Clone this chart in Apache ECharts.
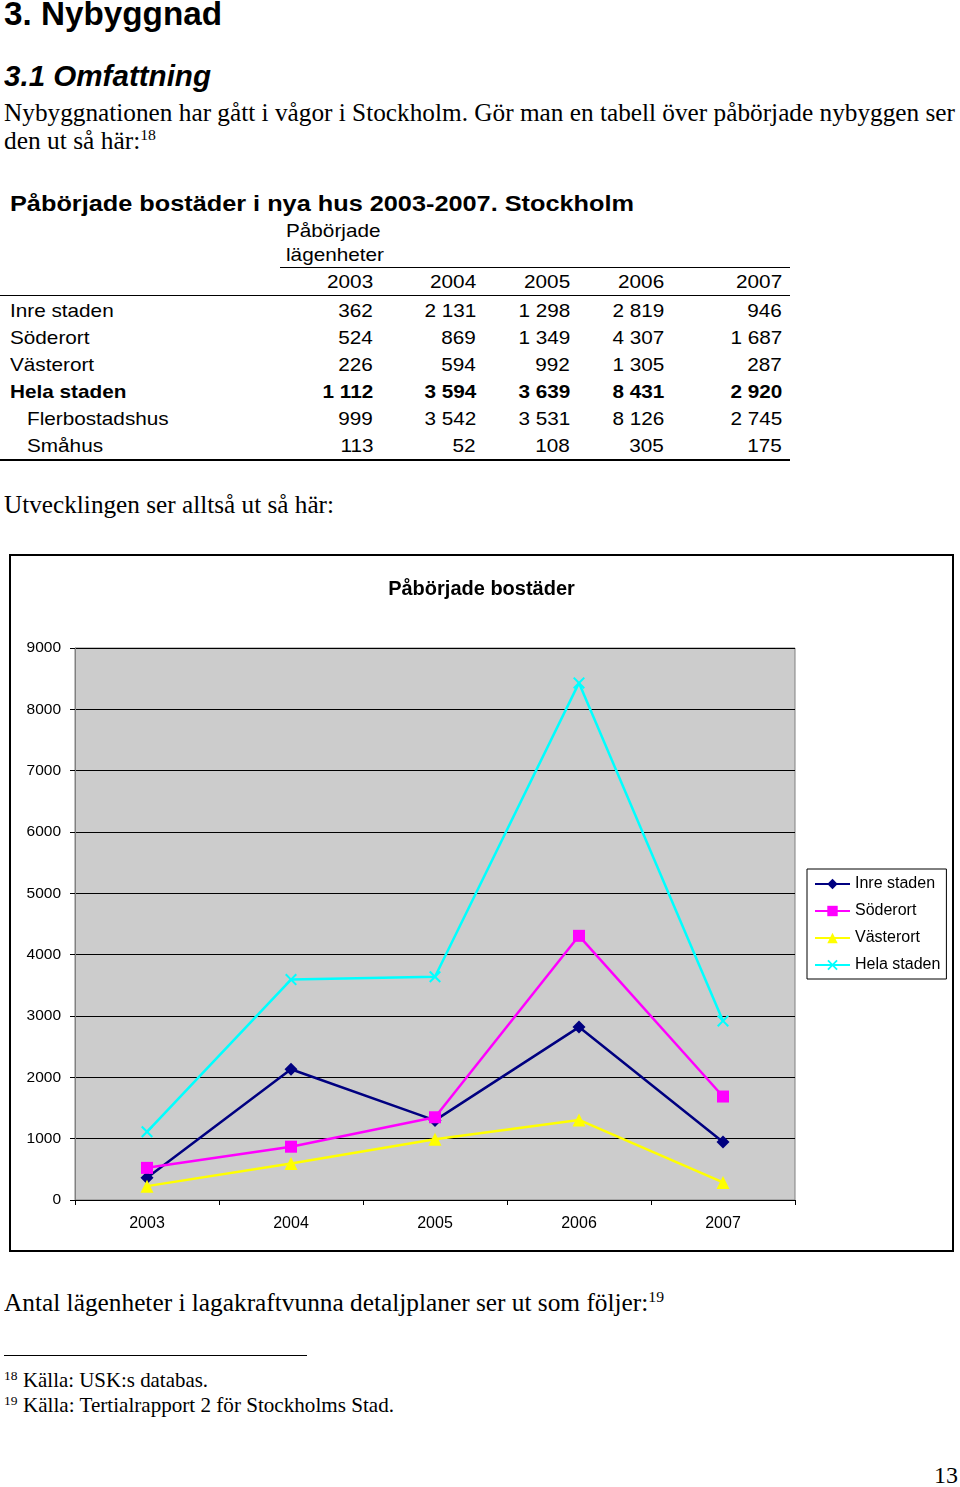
<!DOCTYPE html>
<html><head><meta charset="utf-8">
<script src="https://cdn.jsdelivr.net/npm/echarts@6/dist/echarts.min.js"></script>
<style>
html,body{margin:0;padding:0;background:#fff;}
body{width:960px;height:1487px;position:relative;overflow:hidden;color:#000;}
.t{position:absolute;white-space:nowrap;line-height:1;}
.sans{font-family:"Liberation Sans",Arial,sans-serif;}
.serif{font-family:"Liberation Serif","Times New Roman",serif;}
.hr{position:absolute;background:#000;}
sup{font-size:0.62em;vertical-align:0;position:relative;top:-0.6em;}
#chart{position:absolute;left:9px;top:554px;width:941px;height:694px;border:2px solid #000;}
</style></head><body>
<div id="chart"></div>
<script>
// ---- data ----
const years = ['2003','2004','2005','2006','2007'];
const rowLabels = ['Inre staden','Söderort','Västerort','Hela staden','Flerbostadshus','Småhus'];
const inreStaden = [362, 2131, 1298, 2819, 946];
const soderort = [524, 869, 1349, 4307, 1687];
const vasterort = [226, 594, 992, 1305, 287];
const helaStaden = [1112, 3594, 3639, 8431, 2920];
const flerbostadshus = [999, 3542, 3531, 8126, 2745];
const smahus = [113, 52, 108, 305, 175];
const seriesNames = ['Inre staden','Söderort','Västerort','Hela staden'];
const yMin = 0, yMax = 9000, yStep = 1000;

// ---- text helpers ----
function put(html, o){
  const d = document.createElement('div');
  d.className = 't ' + (o.serif ? 'serif' : 'sans');
  d.innerHTML = html;
  d.style.fontSize = o.size + 'px';
  if (o.bold) d.style.fontWeight = 'bold';
  if (o.italic) d.style.fontStyle = 'italic';
  const asc = o.serif ? 0.8375 : 0.8465;
  d.style.top = (o.base - asc * o.size) + 'px';
  d.style.left = '0px';
  document.body.appendChild(d);
  let k = o.sx || 1;
  if (o.w) k = o.w / d.getBoundingClientRect().width;
  if (o.align === 'right') {
    d.style.left = '';
    d.style.right = (960 - o.x) + 'px';
    d.style.transformOrigin = 'right center';
  } else {
    d.style.left = o.x + 'px';
    d.style.transformOrigin = 'left center';
  }
  d.style.transform = 'scaleX(' + k + ')';
  return d;
}
function hr(x, y, w, h){
  const d = document.createElement('div');
  d.className = 'hr';
  d.style.left = x + 'px'; d.style.top = y + 'px';
  d.style.width = w + 'px'; d.style.height = h + 'px';
  document.body.appendChild(d);
}
function fmt(n){ return String(n).replace(/\B(?=(\d{3})+(?!\d))/g, '\u00a0'); }

// ---- document text ----
put('3. Nybyggnad', {x:4, base:25, size:33, bold:true, w:218});
put('3.1 Omfattning', {x:4, base:86, size:30, bold:true, italic:true, w:207});
put('Nybyggnationen har gått i vågor i Stockholm. Gör man en tabell över påbörjade nybyggen ser', {x:4, base:121, size:25, serif:true, w:951});
put('den ut så här:<sup>18</sup>', {x:4, base:149, size:25, serif:true, w:152});

// ---- table ----
const TS = 18.5, TK = 1.12;
put('Påbörjade bostäder i nya hus 2003-2007. Stockholm', {x:10, base:212, size:22, bold:true, w:624});
put('Påbörjade', {x:286, base:238, size:TS, sx:TK});
put('lägenheter', {x:286, base:262, size:TS, sx:TK});
hr(280, 267, 510, 1);
const colRight = [373, 476, 570, 664, 782];
years.forEach((y, i) => put(y, {x:colRight[i], base:289, size:TS, sx:TK, align:'right'}));
hr(0, 295, 790, 1);
const tableRows = [inreStaden, soderort, vasterort, helaStaden, flerbostadshus, smahus];
const rowBase = [318, 345, 372, 399, 426, 453];
const rowIndent = [10, 10, 10, 10, 27, 27];
tableRows.forEach((vals, r) => {
  const bold = r === 3;
  put(rowLabels[r], {x:rowIndent[r], base:rowBase[r], size:TS, sx:TK, bold});
  vals.forEach((v, i) => put(fmt(v), {x:colRight[i], base:rowBase[r], size:TS, sx:TK, bold, align:'right'}));
});
hr(0, 459, 790, 2);

put('Utvecklingen ser alltså ut så här:', {x:4, base:513, size:25, serif:true, w:330});

put('Antal lägenheter i lagakraftvunna detaljplaner ser ut som följer:<sup>19</sup>', {x:4, base:1311, size:25, serif:true, w:660});
hr(4, 1355, 303, 1);
put('18', {x:4, base:1380, size:13.5, serif:true});
put('Källa: USK:s databas.', {x:23, base:1388, size:21, serif:true, w:185});
put('19', {x:4, base:1405, size:13.5, serif:true});
put('Källa: Tertialrapport 2 för Stockholms Stad.', {x:23, base:1413, size:21, serif:true, w:371});
put('13', {x:958, base:1483, size:24, serif:true, align:'right'});

// ---- chart ----
const font = '"Liberation Sans", Arial, sans-serif';
const crossPath = 'path://M0,1.2L1.2,0L5,3.8L8.8,0L10,1.2L6.2,5L10,8.8L8.8,10L5,6.2L1.2,10L0,8.8L3.8,5Z';
const chart = echarts.init(document.getElementById('chart'), null, {renderer:'canvas'});
function mk(name, data, color, symbol, size){
  return {
    name, type:'line', data, symbol, symbolSize:size, showSymbol:true,
    lineStyle:{color, width:2.5}, itemStyle:{color, borderColor:color, borderWidth:0},
    emphasis:{disabled:true}
  };
}
chart.setOption({
  animation:false,
  backgroundColor:'#ffffff',
  title:{text:'Påbörjade bostäder', left:'center', top:18,
    textStyle:{fontFamily:font, fontSize:20, fontWeight:'bold', color:'#000'}},
  legend:{orient:'vertical', left:796, top:313, backgroundColor:'#fff', borderColor:'#000', borderWidth:1,
    padding:[7,6,6,7], itemGap:11, itemWidth:35, itemHeight:13,
    textStyle:{fontFamily:font, fontSize:16, color:'#000'}, data:seriesNames},
  grid:{left:64, top:92, width:720, height:552, show:true, backgroundColor:'#cccccc', borderColor:'#808080', borderWidth:1},
  xAxis:{type:'category', data:years, boundaryGap:true,
    axisLine:{show:true, lineStyle:{color:'#000', width:1}},
    axisTick:{show:true, length:5, lineStyle:{color:'#000'}},
    axisLabel:{margin:16, fontFamily:font, fontSize:16, color:'#000'},
    splitLine:{show:false}},
  yAxis:{type:'value', min:yMin, max:yMax, interval:yStep,
    axisLine:{show:true, lineStyle:{color:'#808080', width:1}},
    axisTick:{show:true, length:5, lineStyle:{color:'#000'}},
    axisLabel:{margin:14, fontFamily:font, fontSize:15.5, color:'#000', formatter:v => String(v)},
    splitLine:{show:true, lineStyle:{color:'#000', width:1}}},
  series:[
    mk('Inre staden', inreStaden, '#000080', 'diamond', 13),
    mk('Söderort', soderort, '#ff00ff', 'rect', 12),
    mk('Västerort', vasterort, '#ffff00', 'triangle', 13),
    mk('Hela staden', helaStaden, '#00ffff', crossPath, 12)
  ]
});
</script>
</body></html>
